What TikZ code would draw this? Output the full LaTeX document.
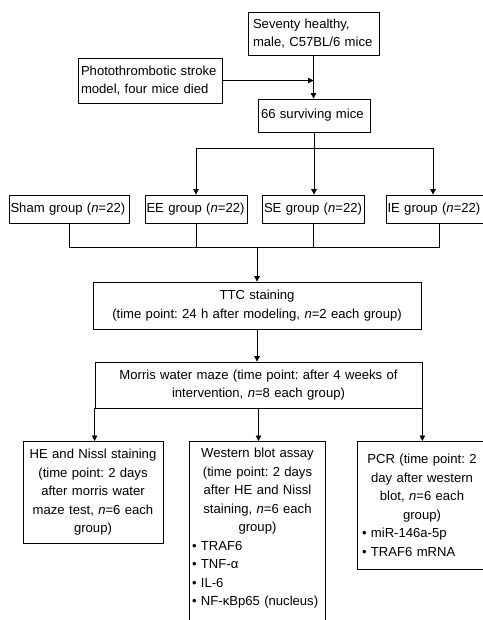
\documentclass[tikz,border=0pt]{standalone}
\usepackage{fontspec}
\setmainfont{Liberation Sans}
\usepackage{tikz}
\usetikzlibrary{arrows.meta}
\frenchspacing
\tikzstyle{leftbox} = [rectangle, draw=black, line width=0.8pt, inner xsep=3pt, inner ysep=4pt, align=left, font=\fontsize{13.1}{18.5}\selectfont]
\tikzstyle{groupbox} = [rectangle, draw=black, line width=0.8pt, inner xsep=1.5pt, inner ysep=3pt, minimum height=28pt, align=left, font=\fontsize{13.1}{18.5}\selectfont]
\tikzstyle{centerbox} = [rectangle, draw=black, line width=0.8pt, inner xsep=2pt, inner ysep=4pt, align=center, font=\fontsize{13.1}{18.5}\selectfont]
\tikzstyle{line} = [line width=0.8pt]
\tikzstyle{arrow} = [line width=0.8pt,->,>={Triangle[length=5.5pt,width=5.5pt]}]
\newcommand{\itemline}[1]{\textbullet\ #1\hfill\null}

\begin{document}
\begin{tikzpicture}[x=1pt, y=1pt, node distance=82pt]
\useasboundingbox (0,0) rectangle (482,-620);


% Start of the model

	\node (seventy) [leftbox, text width=121pt, inner xsep=5pt, minimum height=43pt] at (313.5,-33.5) {Seventy healthy,\\male, C57BL/6 mice};

	\node (photo) [leftbox, text width=138pt, minimum height=45pt, below of=seventy, xshift=-163.5pt, yshift=35pt] {Photothrombotic stroke\\model, four mice died};

	\node (surv) [leftbox, text width=106pt, minimum height=33pt, below of=seventy, xshift=0.5pt] {66 surviving mice};


% Groups

	\node (sham) [groupbox, text width=117pt, below of=surv, xshift=-245pt, yshift=-11.5pt] {Sham group (\textit{n}=22)};

	\node (ee) [groupbox, text width=99pt, below of=surv, xshift=-118pt, yshift=-11.5pt] {EE group (\textit{n}=22)};

	\node (se) [groupbox, text width=99pt, below of=surv, xshift=-0.5pt, yshift=-11.5pt] {SE group (\textit{n}=22)};

	\node (ie) [groupbox, text width=99pt, below of=surv, xshift=123pt, yshift=-11.5pt] {IE group (\textit{n}=22)};


% Tests

	\node (ttc) [centerbox, text width=324pt, minimum height=47pt, below of=se, xshift=-56.5pt, yshift=-14.5pt] {TTC staining\\(time point: 24 h after modeling, \textit{n}=2 each group)};

	\node (morris) [centerbox, text width=323pt, minimum height=46pt, below of=ttc, xshift=1.5pt, yshift=2.5pt] {Morris water maze (time point: after 4 weeks of\\intervention, \textit{n}=8 each group)};


% Assays

	\node (he) [centerbox, text width=136pt, minimum height=102pt, below of=morris, anchor=north, xshift=-165.5pt, yshift=26pt] {HE and Nissl staining\\(time point: 2 days\\after morris water\\maze test, \textit{n}=6 each\\group)};

	\node (wb) [centerbox, draw=none, text width=131pt, inner ysep=7pt, below of=morris, anchor=north, xshift=-1pt, yshift=26pt] {Western blot assay\\(time point: 2 days\\after HE and Nissl\\staining, \textit{n}=6 each\\group)\\\itemline{TRAF6}\\\itemline{TNF-α}\\\itemline{IL-6}\\\itemline{NF-κBp65 (nucleus)}};
	\draw [line] (wb.north west) rectangle ([yshift=-20pt]wb.south east);

	\node (pcr) [centerbox, text width=120pt, inner xsep=5pt, minimum height=128pt, below of=morris, anchor=north, xshift=163.5pt, yshift=26pt] {PCR (time point: 2\\day after western\\blot, \textit{n}=6 each\\group)\\\itemline{miR-146a-5p}\\\itemline{TRAF6 mRNA}};


% Start arrows
	\draw [arrow] (seventy.south) -- (seventy.south |- surv.north);
	\draw [arrow] (photo.east) -- (photo.east -| seventy.south);


% Split into groups
	\coordinate (split) at ([yshift=-16pt]surv.south);
	\coordinate (ietop) at ([xshift=-4pt]ie.north);
	\draw [line] (ee.north |- split) -- (ietop |- split);
	\draw [arrow] (surv.south) -- (surv.south |- se.north);
	\draw [arrow] (ee.north |- split) -- (ee.north);
	\draw [arrow] (ietop |- split) -- (ietop);


% Join groups
	\coordinate (join) at ([yshift=-24pt]sham.south);
	\draw [line] (sham.south) -- (sham.south |- join) -- ([xshift=2pt]ie.south |- join) -- ([xshift=2pt]ie.south);
	\draw [line] (ee.south) -- (ee.south |- join);
	\draw [line] (se.south) -- (se.south |- join);
	\draw [arrow] (ttc.north |- join) -- (ttc.north);
	\draw [arrow] (ttc.south) -- (ttc.south |- morris.north);


% Assay arrows
	\draw [arrow] (morris.south west) -- (morris.south west |- he.north);
	\draw [arrow] (morris.south) -- (morris.south |- wb.north);
	\draw [arrow] (morris.south east) -- (morris.south east |- pcr.north);


\end{tikzpicture}
\end{document}
